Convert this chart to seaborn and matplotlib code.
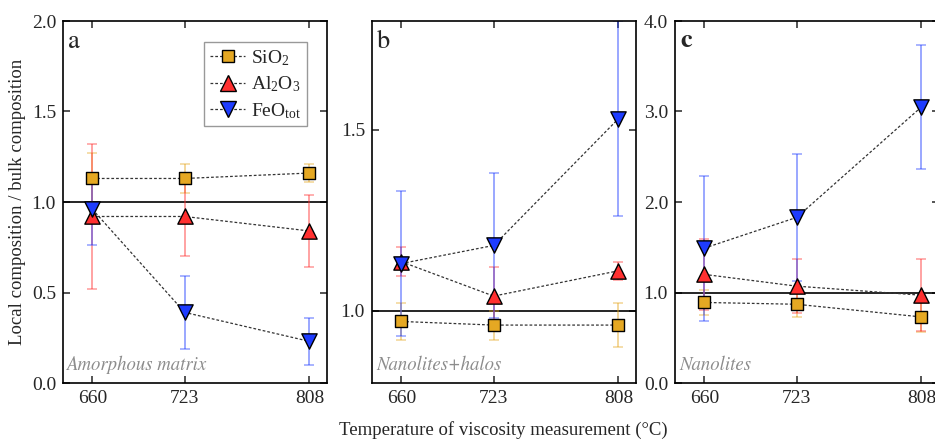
import numpy as np
import pandas as pd
import seaborn as sns
import matplotlib.pyplot as plt
from matplotlib.lines import Line2D

temps = [660, 723, 808]
oxides = ['SiO2', 'Al2O3', 'FeO']
oxide_labels = [r'SiO$_2$', r'Al$_2$O$_3$', r'FeO$_{tot}$']

# panel a: amorphous matrix
a_sio2 = [1.13, 1.13, 1.16]
a_sio2_err = [0.14, 0.08, 0.05]
a_al2o3 = [0.92, 0.92, 0.84]
a_al2o3_err = [0.40, 0.22, 0.20]
a_feo = [0.96, 0.39, 0.23]
a_feo_err = [0.20, 0.20, 0.13]

# panel b: nanolites + halos
b_sio2 = [0.97, 0.96, 0.96]
b_sio2_err = [0.05, 0.04, 0.06]
b_al2o3 = [1.135, 1.04, 1.11]
b_al2o3_err = [0.04, 0.08, 0.025]
b_feo = [1.13, 1.18, 1.53]
b_feo_err = [0.20, 0.20, 0.27]

# panel c: nanolites
c_sio2 = [0.89, 0.87, 0.73]
c_sio2_err = [0.14, 0.14, 0.17]
c_al2o3 = [1.20, 1.07, 0.97]
c_al2o3_err = [0.39, 0.30, 0.40]
c_feo = [1.49, 1.83, 3.05]
c_feo_err = [0.80, 0.70, 0.69]

panel_names = ['Amorphous matrix', 'Nanolites+halos', 'Nanolites']
panel_letters = ['a', 'b', 'c']

rows = []
for p, vals in zip(panel_letters, [
        [(a_sio2, a_sio2_err), (a_al2o3, a_al2o3_err), (a_feo, a_feo_err)],
        [(b_sio2, b_sio2_err), (b_al2o3, b_al2o3_err), (b_feo, b_feo_err)],
        [(c_sio2, c_sio2_err), (c_al2o3, c_al2o3_err), (c_feo, c_feo_err)]]):
    for ox, (v, e) in zip(oxides, vals):
        for t, vi, ei in zip(temps, v, e):
            rows.append({'panel': p, 'oxide': ox, 'temp': t, 'value': vi, 'err': ei})
df = pd.DataFrame(rows)

colors = {'SiO2': '#E5A823', 'Al2O3': '#FF3030', 'FeO': '#1E3CFF'}
markers = {'SiO2': 's', 'Al2O3': '^', 'FeO': 'v'}
msize = {'SiO2': 9, 'Al2O3': 11, 'FeO': 11}

sns.set_style('ticks')
plt.rcParams['font.family'] = ['Liberation Serif', 'DejaVu Serif']
plt.rcParams['mathtext.fontset'] = 'custom'
plt.rcParams['mathtext.rm'] = 'Liberation Serif'
plt.rcParams['mathtext.default'] = 'regular'

fig = plt.figure(figsize=(9.35, 4.4), dpi=100)
w = 264 / 935
h = 362 / 440
bot = 57 / 440
lefts = [63 / 935, 372 / 935, 675 / 935]
axes = [fig.add_axes([l, bot, w, h]) for l in lefts]

ylims = [(0, 2.0), (0.8, 1.8), (0, 4.0)]
yticks = [[0, 0.5, 1.0, 1.5, 2.0], [1.0, 1.5], [0, 1, 2, 3, 4]]

dash = (0, (2.2, 1.6))
for ax, p, name, yl, yt in zip(axes, panel_letters, panel_names, ylims, yticks):
    sub = df[df.panel == p]
    ax.axhline(1.0, color='black', lw=1.2, zorder=1)
    for ox in oxides:
        s = sub[sub.oxide == ox]
        ax.errorbar(s.temp, s.value, yerr=s.err, fmt='none', ecolor=colors[ox],
                    alpha=0.45, capsize=3.5, elinewidth=1.4, capthick=1.2, zorder=2)
    sns.lineplot(data=sub, x='temp', y='value', units='oxide', estimator=None,
                 color='#333333', lw=0.9, linestyle=dash, ax=ax, legend=False, zorder=3)
    for ox in oxides:
        s = sub[sub.oxide == ox]
        sns.scatterplot(data=s, x='temp', y='value', marker=markers[ox], s=msize[ox] ** 2,
                        color=colors[ox], edgecolor='black', linewidth=1.0, ax=ax,
                        legend=False, zorder=4)
    ax.set_xlim(640, 820)
    ax.set_ylim(*yl)
    ax.set_xticks(temps)
    ax.set_yticks(yt)
    ax.set_yticklabels([f'{v:.1f}' for v in yt])
    ax.set_xlabel('')
    ax.set_ylabel('')
    ax.tick_params(direction='in', top=True, right=True, length=5, width=1.1,
                   labelsize=14, pad=5)
    for sp in ax.spines.values():
        sp.set_linewidth(1.2)
        sp.set_color('black')
    ax.text(0.02, 0.975, p, transform=ax.transAxes, ha='left', va='top',
            fontsize=19, family='STIXGeneral',
            fontweight='bold' if p == 'c' else 'normal')
    ax.text(0.015, 0.025, name, transform=ax.transAxes, ha='left', va='bottom',
            fontsize=13.5, family='STIXGeneral', style='italic', color='#8c8c8c')

handles = [Line2D([], [], color='#333333', lw=0.9, linestyle=dash, marker=markers[ox],
                  markersize=msize[ox], markerfacecolor=colors[ox],
                  markeredgecolor='black', markeredgewidth=1.0) for ox in oxides]
leg = axes[0].legend(handles, oxide_labels, loc='upper right', bbox_to_anchor=(0.924, 0.942),
                     borderaxespad=0, fontsize=14, handlelength=1.8, frameon=True,
                     fancybox=False, edgecolor='#999999', framealpha=1,
                     labelspacing=0.35, handletextpad=0.3, borderpad=0.3)
leg.get_frame().set_linewidth(1.0)

fig.text(18 / 935, 1 - 202 / 440, 'Local composition / bulk composition', rotation=90,
         ha='center', va='center', fontsize=13.5)
fig.text(503 / 935, 10 / 440, 'Temperature of viscosity measurement (°C)',
         ha='center', va='center', fontsize=13.5)

fig.savefig('out.png', dpi=100)
